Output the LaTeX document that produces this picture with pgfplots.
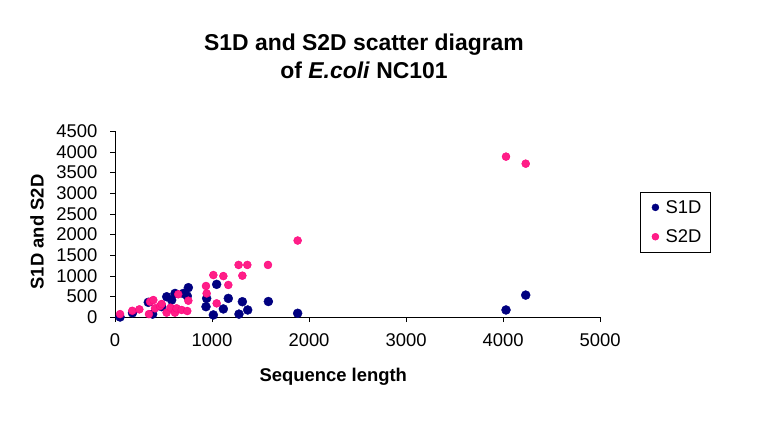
\documentclass[border=0pt]{standalone}
\usepackage{pgfplots}
\pgfplotsset{compat=1.18}
\usepackage{fontspec}
\setmainfont{Liberation Sans}
\definecolor{s1d}{RGB}{0,0,128}
\definecolor{s2d}{RGB}{255,0,128}
\definecolor{s2dfill}{RGB}{255,30,135}
\begin{document}
\begin{tikzpicture}[x=1bp,y=1bp]
\useasboundingbox (0,0) rectangle (776,428);
\node[align=center,font=\fontsize{23}{28}\selectfont\bfseries] at (364,372) {S1D and S2D scatter diagram\\of \textit{E.coli} NC101};
\begin{axis}[
  at={(115bp,111bp)}, anchor=south west,
  width=485bp, height=186bp, scale only axis,
  xmin=0, xmax=5000, ymin=0, ymax=4500,
  axis x line=bottom, axis y line=left,
  axis line style={-, black},
  xtick={0,1000,...,5000}, ytick={0,500,...,4500},
  tick align=outside, major tick length=5bp,
  tick style={black},
  /pgf/number format/.cd, 1000 sep={}, assume math mode=true,
  /pgfplots/.cd,
  ticklabel style={font=\fontsize{18.5}{20}\selectfont},
  yticklabel style={xshift=-9bp},
  xticklabel style={yshift=-8bp},
  xlabel={Sequence length},
  ylabel={S1D and S2D},
  label style={font=\fontsize{18.5}{20}\selectfont\bfseries},
  xlabel style={at={(axis description cs:0.45,-0.323)}, anchor=center},
  ylabel style={at={(axis description cs:-0.161,0.457)}, anchor=center, rotate=0},
  legend style={at={(axis description cs:1.0825,0.672)}, anchor=north west,
    font=\fontsize{18.5}{20}\selectfont, draw=black, inner xsep=7bp, inner ysep=6bp,
    row sep=11bp},
  legend image code/.code={\path (0bp,0bp) (16bp,0bp); \draw[#1,mark size=3.5bp] plot coordinates {(8bp,0bp)};},
  legend cell align=left,
  clip=false,
]
\addplot[only marks, mark=*, mark size=4.5bp, mark options={draw=s1d, fill=s1d}] coordinates {
(52,0)(180,100)(343,355)(388,70)(481,250)(533,490)(619,570)(584,410)(704,570)(756,710)(745,508)(945,450)(938,250)(1014,50)(1048,790)(1117,195)(1168,450)(1278,70)(1313,370)(1368,170)(1581,375)(1883,90)(4031,170)(4234,530)
};
\addlegendentry{S1D}
\addplot[only marks, mark=*, mark size=4bp, mark options={draw=s2d, fill=s2dfill}] coordinates {
(52,70)(178,150)(251,185)(350,70)(361,370)(395,410)(412,210)(464,265)(481,315)(532,105)(573,225)(618,105)(635,210)(652,550)(687,170)(745,145)(756,395)(938,750)(945,570)(1014,1015)(1048,330)(1117,990)(1168,775)(1274,1260)(1313,1000)(1364,1260)(1577,1260)(1883,1850)(4031,3880)(4234,3710)
};
\addlegendentry{S2D}
\end{axis}
\end{tikzpicture}
\end{document}
